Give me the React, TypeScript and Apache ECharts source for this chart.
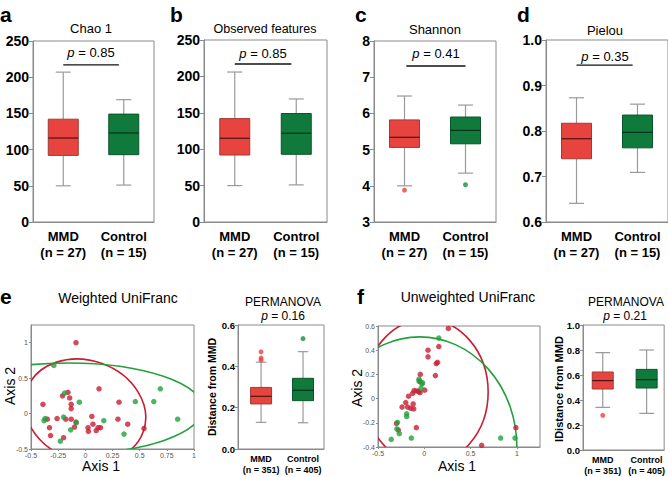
import React, { useEffect, useRef } from 'react';
import * as echarts from 'echarts';

const FONT = '"Liberation Sans", Arial, Helvetica, sans-serif';

const groups = ['MMD', 'Control'];
const alphaCounts = ['(n = 27)', '(n = 15)'];
const betaCounts = ['(n = 351)', '(n = 405)'];
const alphaTitles = ['Chao 1', 'Observed features', 'Shannon', 'Pielou'];
const alphaP = ['0.85', '0.85', '0.41', '0.35'];
const betaTitles = ['Weighted UniFranc', 'Unweighted UniFranc'];
const betaP = ['0.16', '0.21'];

// five-number summaries [min, Q1, median, Q3, max]
const chaoMMD = [50, 92, 116, 142, 207];
const chaoCtrl = [51, 93, 123, 149, 169];
const obsMMD = [50, 92, 115, 142, 206];
const obsCtrl = [51, 93, 122, 149, 169];
const shanMMD = [4.0, 5.06, 5.34, 5.82, 6.48];
const shanCtrl = [4.35, 5.16, 5.53, 5.9, 6.23];
const shanOutMMD = [3.88];
const shanOutCtrl = [4.03];
const pielouMMD = [0.641, 0.739, 0.783, 0.817, 0.873];
const pielouCtrl = [0.709, 0.763, 0.797, 0.835, 0.859];

const wDistMMD = [0.129, 0.218, 0.255, 0.298, 0.42];
const wDistCtrl = [0.127, 0.234, 0.284, 0.342, 0.471];
const wOutMMD = [0.47, 0.44, 0.43];
const wOutCtrl = [0.534];
const uDistMMD = [0.341, 0.488, 0.555, 0.624, 0.779];
const uDistCtrl = [0.293, 0.496, 0.563, 0.645, 0.8];
const uOutMMD = [0.277];

// significance bar: y value and start/end as fraction between the two groups
const pLineY = [217, 217, 7.31, 0.945];
const pLineSpan = [[0, 0.92], [0, 0.92], [0.03, 1], [0, 0.92]];

// PCoA coordinates [axis1, axis2]
const wMMD = [[-0.086, 1.0], [-0.39, 0.13], [-0.21, 0.25], [-0.16, 0.3], [-0.144, 0.22], [-0.13, 0.13], [-0.13, 0.07], [-0.35, -0.08], [-0.33, -0.2], [-0.32, -0.31], [-0.26, -0.07], [-0.18, -0.08], [-0.13, -0.08], [-0.2, -0.34], [-0.1, -0.19], [-0.086, -0.12], [0.126, 0.35], [0.06, -0.04], [0.07, -0.15], [0.025, -0.2], [0.028, -0.25], [0.1, -0.24], [0.117, -0.2], [0.14, -0.2], [0.31, 0.16], [0.3, -0.08], [0.39, -0.15], [0.54, -0.21]];
const wCtrl = [[-0.29, 0.68], [-0.19, 0.29], [-0.055, 0.16], [-0.37, -0.07], [-0.38, -0.1], [-0.2, -0.05], [-0.083, -0.13], [-0.135, -0.23], [-0.23, -0.39], [0.17, -0.1], [0.356, -0.29], [0.46, 0.17], [0.63, 0.17], [0.69, 0.35], [0.85, -0.08]];
const uMMD = [[0.26, 0.58], [0.04, 0.4], [0.04, 0.345], [0.157, 0.43], [0.143, 0.3], [0.129, 0.29], [0.12, 0.19], [-0.043, 0.2], [0.004, 0.07], [-0.046, 0.14], [-0.11, 0.066], [-0.08, 0.063], [-0.06, 0.058], [-0.125, 0.044], [-0.17, 0.02], [-0.2, -0.033], [-0.24, -0.07], [-0.18, -0.07], [-0.146, -0.08], [-0.114, -0.085], [-0.12, -0.044], [-0.086, -0.24], [-0.3, -0.205], [-0.28, -0.26], [0.62, -0.386], [0.99, -0.24], [-0.046, 0.05]];
const uCtrl = [[0.157, 0.5], [-0.057, 0.16], [-0.057, 0.145], [-0.025, 0.12], [-0.036, 0.085], [-0.29, -0.197], [-0.19, -0.126], [-0.19, -0.148], [-0.296, -0.25], [-0.27, -0.29], [-0.357, -0.337], [-0.14, -0.326], [0.825, -0.326], [0.98, -0.326], [-0.018, 0.13]];

// confidence ellipses [centerX, centerY, radius in x units, radius in y units, rotationDeg]
const wEllMMD = [-0.003, 0.042, 0.57, 0.706, -20];
const wEllCtrl = [-0.16, 0.072, 1.242, 0.642, 0];
const uEllMMD = [0.02, 0.055, 0.67, 0.6, 0];
const uEllCtrl = [-0.05, -0.4, 1.05, 0.91, 0];

const RED_FILL = '#E8443F';
const RED_EDGE = '#A23A35';
const RED_MED = '#4E1210';
const GREEN_FILL = '#0F7A3B';
const GREEN_EDGE = '#0A552A';
const GREEN_MED = '#04301A';
const WHISKER = '#9A9A9A';
const FRAME = '#8A8A8A';
const DOT_RED = '#C81E32';
const DOT_GREEN = '#22A03C';

function boxRenderer(boxPx: number, capRatio: number, fill: string, edge: string, med: string) {
  return (params: any, api: any) => {
    const x = api.value(0);
    const mn = api.coord([x, api.value(1)]);
    const q1 = api.coord([x, api.value(2)]);
    const md = api.coord([x, api.value(3)]);
    const q3 = api.coord([x, api.value(4)]);
    const mx = api.coord([x, api.value(5)]);
    const cx = mn[0];
    const hw = boxPx / 2;
    const cw = hw * capRatio;
    const ws = { stroke: WHISKER, lineWidth: 1.2 };
    return {
      type: 'group',
      children: [
        { type: 'line', shape: { x1: cx, y1: mx[1], x2: cx, y2: q3[1] }, style: ws },
        { type: 'line', shape: { x1: cx, y1: q1[1], x2: cx, y2: mn[1] }, style: ws },
        { type: 'line', shape: { x1: cx - cw, y1: mx[1], x2: cx + cw, y2: mx[1] }, style: ws },
        { type: 'line', shape: { x1: cx - cw, y1: mn[1], x2: cx + cw, y2: mn[1] }, style: ws },
        { type: 'rect', shape: { x: cx - hw, y: q3[1], width: 2 * hw, height: q1[1] - q3[1] }, style: { fill, stroke: edge, lineWidth: 1 } },
        { type: 'line', shape: { x1: cx - hw, y1: md[1], x2: cx + hw, y2: md[1] }, style: { stroke: med, lineWidth: 1.2 } },
      ],
    };
  };
}

function ellipseRenderer(color: string) {
  return (params: any, api: any) => {
    const c = api.coord([api.value(0), api.value(1)]);
    const s = api.size([api.value(2), api.value(3)]);
    const rx = s[0];
    const ry = s[1];
    const d = `M ${-rx} 0 A ${rx} ${ry} 0 1 0 ${rx} 0 A ${rx} ${ry} 0 1 0 ${-rx} 0 Z`;
    return {
      type: 'path',
      x: c[0],
      y: c[1],
      rotation: (api.value(4) * Math.PI) / 180,
      shape: { pathData: d },
      style: { fill: 'none', stroke: color, lineWidth: 1.6 },
    };
  };
}

function pLineRenderer(params: any, api: any) {
  const y = api.value(1);
  const a = api.coord([0, y]);
  const b = api.coord([1, y]);
  const f0 = api.value(2);
  const f1 = api.value(3);
  return {
    type: 'line',
    shape: { x1: a[0] + (b[0] - a[0]) * f0, y1: a[1], x2: a[0] + (b[0] - a[0]) * f1, y2: a[1] },
    style: { stroke: '#111', lineWidth: 1.3 },
  };
}

export default function App() {
  const ref = useRef<HTMLDivElement>(null);
  useEffect(() => {
    if (!ref.current) return;
    const chart = echarts.init(ref.current, null, { renderer: 'svg' });

    const topGrids = [
      { left: 33, top: 41, width: 121, height: 181 },
      { left: 204, top: 40, width: 123, height: 182 },
      { left: 374, top: 41, width: 122, height: 181 },
      { left: 546, top: 40, width: 122, height: 182 },
    ];
    const topY = [
      { min: 0, max: 250, interval: 50, dec: 0 },
      { min: 0, max: 250, interval: 50, dec: 0 },
      { min: 3, max: 8, interval: 1, dec: 0 },
      { min: 0.6, max: 1.0, interval: 0.1, dec: 1 },
    ];
    const topData = [
      [chaoMMD, chaoCtrl],
      [obsMMD, obsCtrl],
      [shanMMD, shanCtrl],
      [pielouMMD, pielouCtrl],
    ];

    const grids: any[] = [];
    const xAxes: any[] = [];
    const yAxes: any[] = [];
    const series: any[] = [];

    const gridBase = { show: true, borderColor: FRAME, borderWidth: 1, backgroundColor: 'transparent', containLabel: false };
    const line = { onZero: false, lineStyle: { color: FRAME } };

    topGrids.forEach((g, i) => {
      grids.push({ ...gridBase, ...g });
      xAxes.push({
        gridIndex: i,
        type: 'category',
        data: groups,
        axisLine: line,
        axisTick: { show: false },
        axisLabel: {
          interval: 0,
          margin: 6,
          color: '#000',
          fontFamily: FONT,
          fontWeight: 'bold',
          fontSize: 13,
          lineHeight: 16,
          formatter: (v: string, idx: number) => `${v}\n${alphaCounts[idx]}`,
        },
      });
      const yc = topY[i];
      yAxes.push({
        gridIndex: i,
        type: 'value',
        min: yc.min,
        max: yc.max,
        interval: yc.interval,
        splitLine: { show: false },
        axisLine: { show: true, ...line },
        axisTick: { show: true, length: 4, lineStyle: { color: FRAME } },
        axisLabel: {
          margin: 4,
          color: '#000',
          fontFamily: FONT,
          fontWeight: 'bold',
          fontSize: 14,
          formatter: (v: number) => v.toFixed(yc.dec),
        },
      });
      const [m, c] = topData[i];
      series.push({
        type: 'custom', xAxisIndex: i, yAxisIndex: i,
        renderItem: boxRenderer(30, 0.5, RED_FILL, RED_EDGE, RED_MED),
        encode: { x: 0, y: [1, 2, 3, 4, 5] },
        data: [[0, ...m]],
      });
      series.push({
        type: 'custom', xAxisIndex: i, yAxisIndex: i,
        renderItem: boxRenderer(30, 0.5, GREEN_FILL, GREEN_EDGE, GREEN_MED),
        encode: { x: 0, y: [1, 2, 3, 4, 5] },
        data: [[1, ...c]],
      });
      series.push({
        type: 'custom', xAxisIndex: i, yAxisIndex: i,
        renderItem: pLineRenderer,
        encode: { x: 0, y: 1 },
        data: [[0, pLineY[i], pLineSpan[i][0], pLineSpan[i][1]]],
      });
    });
    // Shannon outliers
    series.push({ type: 'scatter', xAxisIndex: 2, yAxisIndex: 2, symbolSize: 5, itemStyle: { color: RED_FILL }, data: shanOutMMD.map((v) => [0, v]) });
    series.push({ type: 'scatter', xAxisIndex: 2, yAxisIndex: 2, symbolSize: 5, itemStyle: { color: '#178F40' }, data: shanOutCtrl.map((v) => [1, v]) });

    // ---- PCoA panels ----
    const smallTick = { color: '#555', fontFamily: FONT, fontSize: 7, margin: 3 };
    const pcoa = [
      { grid: { left: 31, top: 325, width: 163, height: 124 }, x: { min: -0.5, max: 1, interval: 0.25 }, y: { min: -0.5, max: 1.25, interval: 0.5 }, m: wMMD, c: wCtrl, em: wEllMMD, ec: wEllCtrl },
      { grid: { left: 378, top: 326, width: 162, height: 121 }, x: { min: -0.5, max: 1.25, interval: 0.5 }, y: { min: -0.4, max: 0.6, interval: 0.2 }, m: uMMD, c: uCtrl, em: uEllMMD, ec: uEllCtrl },
    ];
    const beta = [
      { grid: { left: 238, top: 325, width: 86, height: 124 }, x: { min: -0.55, max: 1.5, interval: 0.05 }, y: { min: 0, max: 0.6, interval: 0.2 }, m: wDistMMD, c: wDistCtrl, om: wOutMMD, oc: wOutCtrl, cap: 0.5 },
      { grid: { left: 583, top: 325, width: 86, height: 125 }, x: { min: -0.45, max: 1.4, interval: 0.05 }, y: { min: 0, max: 1.0, interval: 0.2 }, m: uDistMMD, c: uDistCtrl, om: uOutMMD, oc: [] as number[], cap: 0.7 },
    ];

    pcoa.forEach((p, k) => {
      const gi = grids.length;
      grids.push({ ...gridBase, ...p.grid });
      xAxes.push({
        gridIndex: gi, type: 'value', ...p.x,
        splitLine: { show: false },
        axisLine: line,
        axisTick: { show: true, length: 2, lineStyle: { color: FRAME } },
        axisLabel: { ...smallTick, showMaxLabel: k === 0 },
      });
      yAxes.push({
        gridIndex: gi, type: 'value', ...p.y,
        splitLine: { show: false },
        axisLine: { show: true, ...line },
        axisTick: { show: true, length: 2, lineStyle: { color: FRAME } },
        axisLabel: { ...smallTick, showMaxLabel: k === 1 },
      });
      series.push({ type: 'custom', xAxisIndex: gi, yAxisIndex: gi, clip: true, renderItem: ellipseRenderer(DOT_RED), encode: { x: 0, y: 1 }, data: [p.em] });
      series.push({ type: 'custom', xAxisIndex: gi, yAxisIndex: gi, clip: true, renderItem: ellipseRenderer(DOT_GREEN), encode: { x: 0, y: 1 }, data: [p.ec] });
      series.push({ type: 'scatter', xAxisIndex: gi, yAxisIndex: gi, symbolSize: 5.5, itemStyle: { color: DOT_RED }, data: p.m });
      series.push({ type: 'scatter', xAxisIndex: gi, yAxisIndex: gi, symbolSize: 5.5, itemStyle: { color: DOT_GREEN }, data: p.c });
    });

    beta.forEach((b) => {
      const gi = grids.length;
      grids.push({ ...gridBase, ...b.grid });
      xAxes.push({
        gridIndex: gi, type: 'value', ...b.x,
        splitLine: { show: false },
        axisLine: line,
        axisTick: { show: false },
        axisLabel: {
          color: '#000', fontFamily: FONT, fontWeight: 'bold', fontSize: 9, lineHeight: 11, margin: 4,
          showMinLabel: false, showMaxLabel: false,
          formatter: (v: number) => {
            if (Math.abs(v) < 1e-6) return `${groups[0]}\n${betaCounts[0]}`;
            if (Math.abs(v - 1) < 1e-6) return `${groups[1]}\n${betaCounts[1]}`;
            return '';
          },
        },
      });
      yAxes.push({
        gridIndex: gi, type: 'value', ...b.y,
        splitLine: { show: false },
        axisLine: { show: true, ...line },
        axisTick: { show: true, length: 3, lineStyle: { color: FRAME } },
        axisLabel: { color: '#000', fontFamily: FONT, fontWeight: 'bold', fontSize: 9.5, margin: 3, formatter: (v: number) => v.toFixed(1) },
      });
      series.push({ type: 'custom', xAxisIndex: gi, yAxisIndex: gi, renderItem: boxRenderer(21, b.cap, RED_FILL, RED_EDGE, RED_MED), encode: { x: 0, y: [1, 2, 3, 4, 5] }, data: [[0, ...b.m]] });
      series.push({ type: 'custom', xAxisIndex: gi, yAxisIndex: gi, renderItem: boxRenderer(21, b.cap, GREEN_FILL, GREEN_EDGE, GREEN_MED), encode: { x: 0, y: [1, 2, 3, 4, 5] }, data: [[1, ...b.c]] });
      series.push({ type: 'scatter', xAxisIndex: gi, yAxisIndex: gi, symbolSize: 5, itemStyle: { color: RED_FILL }, data: b.om.map((v) => [0, v]) });
      series.push({ type: 'scatter', xAxisIndex: gi, yAxisIndex: gi, symbolSize: 5, itemStyle: { color: '#178F40' }, data: b.oc.map((v) => [1, v]) });
    });

    const txt = (text: string, x: number, y: number, size: number, opts: any = {}) => ({
      type: 'text',
      x,
      y,
      rotation: opts.rotation || 0,
      style: {
        text,
        fill: '#000',
        fontFamily: FONT,
        fontSize: size,
        fontWeight: opts.bold ? 'bold' : 'normal',
        textAlign: opts.align || 'center',
        textVerticalAlign: 'middle',
      },
    });
    const pTxt = (val: string, x: number, y: number, size: number) => ({
      type: 'text',
      x,
      y,
      style: {
        text: `{i|p}{n| = ${val}}`,
        rich: {
          i: { fontStyle: 'italic', fontFamily: FONT, fontSize: size, fill: '#000' },
          n: { fontFamily: FONT, fontSize: size, fill: '#000' },
        },
        textAlign: 'center',
        textVerticalAlign: 'middle',
      },
    });

    const graphic: any[] = [
      txt('a', 0, 14, 21, { bold: true, align: 'left' }),
      txt('b', 170, 14, 21, { bold: true, align: 'left' }),
      txt('c', 355, 14, 21, { bold: true, align: 'left' }),
      txt('d', 517, 14, 21, { bold: true, align: 'left' }),
      txt('e', 0, 296, 21, { bold: true, align: 'left' }),
      txt('f', 357, 296, 21, { bold: true, align: 'left' }),
      txt(alphaTitles[0], 91, 28, 13),
      txt(alphaTitles[1], 265, 29, 12.5),
      txt(alphaTitles[2], 435, 29, 13),
      txt(alphaTitles[3], 605, 30, 13),
      pTxt(alphaP[0], 91, 52, 13),
      pTxt(alphaP[1], 263, 53, 13),
      pTxt(alphaP[2], 436, 53, 13),
      pTxt(alphaP[3], 605, 56, 13),
      txt(betaTitles[0], 118, 298, 14),
      txt(betaTitles[1], 468, 297, 14),
      txt('PERMANOVA', 283, 302, 12),
      txt('PERMANOVA', 626, 302, 12),
      pTxt(betaP[0], 283, 316, 12),
      pTxt(betaP[1], 625, 316, 12),
      txt('Axis 1', 101, 466, 14),
      txt('Axis 2', 10, 386, 14, { rotation: Math.PI / 2 }),
      txt('Axis 1', 457, 466, 14),
      txt('Axis 2', 357, 388, 14, { rotation: Math.PI / 2 }),
      txt('Distance from MMD', 212, 387, 10.5, { bold: true, rotation: Math.PI / 2 }),
      txt('IDistance from MMD', 559, 389, 11, { bold: true, rotation: Math.PI / 2 }),
    ];

    chart.setOption({
      animation: false,
      backgroundColor: '#fff',
      grid: grids,
      xAxis: xAxes,
      yAxis: yAxes,
      series,
      graphic,
    });
    return () => chart.dispose();
  }, []);

  return <div ref={ref} style={{ position: 'fixed', left: 0, top: 0, width: 668, height: 477 }} />;
}
